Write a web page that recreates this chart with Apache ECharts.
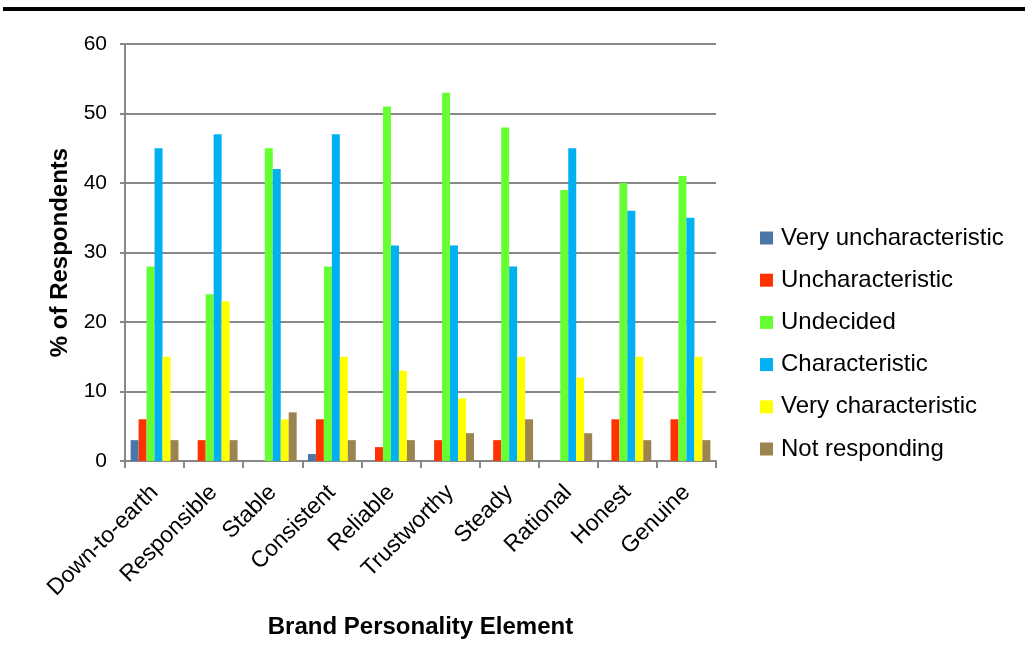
<!DOCTYPE html>
<html>
<head>
<meta charset="utf-8">
<script src="https://cdn.jsdelivr.net/npm/echarts@6/dist/echarts.min.js"></script>
<style>
  html, body { margin: 0; padding: 0; background: #fff; }
  #topRule { position: absolute; left: 3px; top: 7px; width: 1022px; height: 4px; background: #000; }
  #chart { width: 1025px; height: 670px; }
</style>
</head>
<body>
<div id="topRule"></div>
<div id="chart"></div>
<script>
// Brand personality survey responses (% of respondents)
const categories = ['Down-to-earth', 'Responsible', 'Stable', 'Consistent', 'Reliable',
                    'Trustworthy', 'Steady', 'Rational', 'Honest', 'Genuine'];
const veryUncharacteristic = [3, 0, 0, 1, 0, 0, 0, 0, 0, 0];
const uncharacteristic     = [6, 3, 0, 6, 2, 3, 3, 0, 6, 6];
const undecided            = [28, 24, 45, 28, 51, 53, 48, 39, 40, 41];
const characteristic       = [45, 47, 42, 47, 31, 31, 28, 45, 36, 35];
const veryCharacteristic   = [15, 23, 6, 15, 13, 9, 15, 12, 15, 15];
const notResponding        = [3, 3, 7, 3, 3, 4, 6, 4, 3, 3];
const yTicks = [0, 10, 20, 30, 40, 50, 60];

const seriesDefs = [
  ['Very uncharacteristic', veryUncharacteristic, '#4a76a8'],
  ['Uncharacteristic', uncharacteristic, '#ff3300'],
  ['Undecided', undecided, '#66ff33'],
  ['Characteristic', characteristic, '#00b0f0'],
  ['Very characteristic', veryCharacteristic, '#ffff00'],
  ['Not responding', notResponding, '#9c8450']
];

const font = 'Liberation Sans, Arial, sans-serif';
const chart = echarts.init(document.getElementById('chart'), null, { renderer: 'canvas' });

chart.setOption({
  animation: false,
  textStyle: { fontFamily: font },
  grid: { left: 125, right: 309, top: 44, bottom: 209 },
  legend: {
    orient: 'vertical',
    left: 755,
    top: 221,
    itemWidth: 13,
    itemHeight: 13,
    itemGap: 18.2,
    icon: 'rect',
    textStyle: { fontSize: 24, color: '#000', fontFamily: font, padding: [0, 0, 0, 3] },
    data: seriesDefs.map(d => d[0])
  },
  xAxis: {
    type: 'category',
    data: categories,
    name: 'Brand Personality Element',
    nameLocation: 'middle',
    nameGap: 154,
    nameTextStyle: { fontSize: 24, fontWeight: 'bold', color: '#000', fontFamily: font },
    axisLine: { lineStyle: { color: '#888', width: 2 } },
    axisTick: { show: true, length: 7, lineStyle: { color: '#888', width: 2 } },
    axisLabel: {
      interval: 0, rotate: 45, fontSize: 23, color: '#000', fontFamily: font,
      margin: 28
    }
  },
  yAxis: {
    type: 'value',
    min: 0, max: 60, interval: 10,
    name: '% of Respondents',
    nameLocation: 'middle',
    nameGap: 53,
    nameTextStyle: { fontSize: 24, fontWeight: 'bold', color: '#000', fontFamily: font },
    axisLine: { show: true, lineStyle: { color: '#888', width: 2 } },
    axisTick: { show: true, length: 5, lineStyle: { color: '#888', width: 2 } },
    axisLabel: {
      fontSize: 21, color: '#000', fontFamily: font, margin: 18,
      formatter: v => (yTicks.indexOf(v) >= 0 ? String(v) : '')
    },
    splitLine: { lineStyle: { color: '#888', width: 2 } }
  },
  series: seriesDefs.map(([name, values, color]) => ({
    name,
    type: 'bar',
    data: values,
    barGap: '0%',
    barCategoryGap: '19%',
    itemStyle: { color },
    emphasis: { disabled: true }
  }))
});
</script>
</body>
</html>
